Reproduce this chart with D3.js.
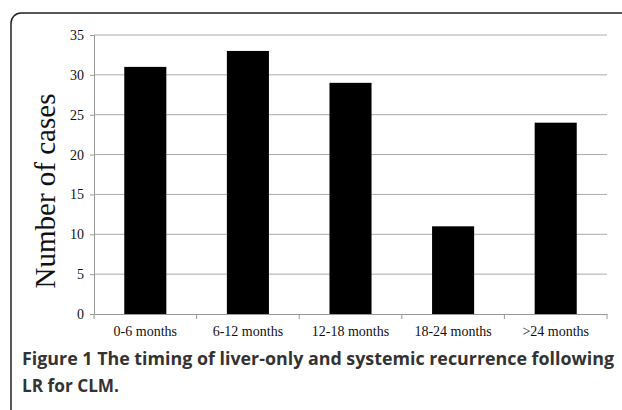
<!DOCTYPE html>
<html><head><meta charset="utf-8">
<script src="https://cdn.jsdelivr.net/npm/d3@7"></script>
<style>body{margin:0;background:#fff}</style></head>
<body><div id="c"></div>
<script>
const categories = ["0-6 months", "6-12 months", "12-18 months", "18-24 months", ">24 months"];
const cases = [31, 33, 29, 11, 24];
const yTicks = [0, 5, 10, 15, 20, 25, 30, 35];

const svg = d3.select('#c').append('svg').attr('width', 622).attr('height', 410);
svg.append('rect').attr('x', 11).attr('y', 13).attr('width', 660).attr('height', 430)
  .attr('rx', 10).attr('fill', 'none').attr('stroke', '#222').attr('stroke-width', 1.5);

const x = d3.scaleBand().domain(categories).range([94, 607]).paddingInner(0.59).paddingOuter(0.295);
const y = d3.scaleLinear().domain([0, 35]).range([314, 35]);

svg.append('g').selectAll('line').data(yTicks.slice(1)).join('line')
  .attr('x1', 94).attr('x2', 607).attr('y1', d => y(d)).attr('y2', d => y(d))
  .attr('stroke', '#aaa').attr('stroke-width', 1);

svg.append('g').selectAll('rect').data(cases).join('rect')
  .attr('x', (d, i) => x(categories[i])).attr('width', x.bandwidth())
  .attr('y', d => y(d)).attr('height', d => y(0) - y(d)).attr('fill', '#000');

const ya = svg.append('g').attr('transform', 'translate(94,0)')
  .call(d3.axisLeft(y).tickValues(yTicks).tickSize(4).tickPadding(6));
ya.selectAll('text').attr('font-family', 'Liberation Serif').attr('font-size', 14).attr('fill', '#111');
ya.selectAll('line,path').attr('stroke', '#999');

const xb = d3.scaleBand().domain(categories).range([94, 607]);
const xa = svg.append('g').attr('transform', 'translate(0,314)')
  .call(d3.axisBottom(xb).tickSize(0).tickPadding(12));
xa.selectAll('text').attr('font-family', 'Liberation Serif').attr('font-size', 14).attr('fill', '#111');
xa.select('path').attr('stroke', '#999');
xa.selectAll('.sep').data(d3.range(6)).join('line').attr('class', 'sep')
  .attr('x1', i => 94 + i * xb.step()).attr('x2', i => 94 + i * xb.step())
  .attr('y1', 0).attr('y2', 5).attr('stroke', '#999');

svg.append('text').attr('transform', 'translate(55,191) rotate(-90)')
  .attr('text-anchor', 'middle').attr('font-family', 'Liberation Serif').attr('font-size', 29)
  .attr('fill', '#111').text('Number of cases');

const cap = svg.append('text').attr('font-family', 'Open Sans').attr('font-size', 18)
  .attr('font-weight', 'bold').attr('fill', '#333');
cap.append('tspan').attr('x', 22).attr('y', 365).attr('textLength', 592).attr('lengthAdjust', 'spacingAndGlyphs')
  .text('Figure 1 The timing of liver-only and systemic recurrence following');
cap.append('tspan').attr('x', 22).attr('y', 392).attr('textLength', 97).attr('lengthAdjust', 'spacingAndGlyphs').text('LR for CLM.');
</script></body></html>
